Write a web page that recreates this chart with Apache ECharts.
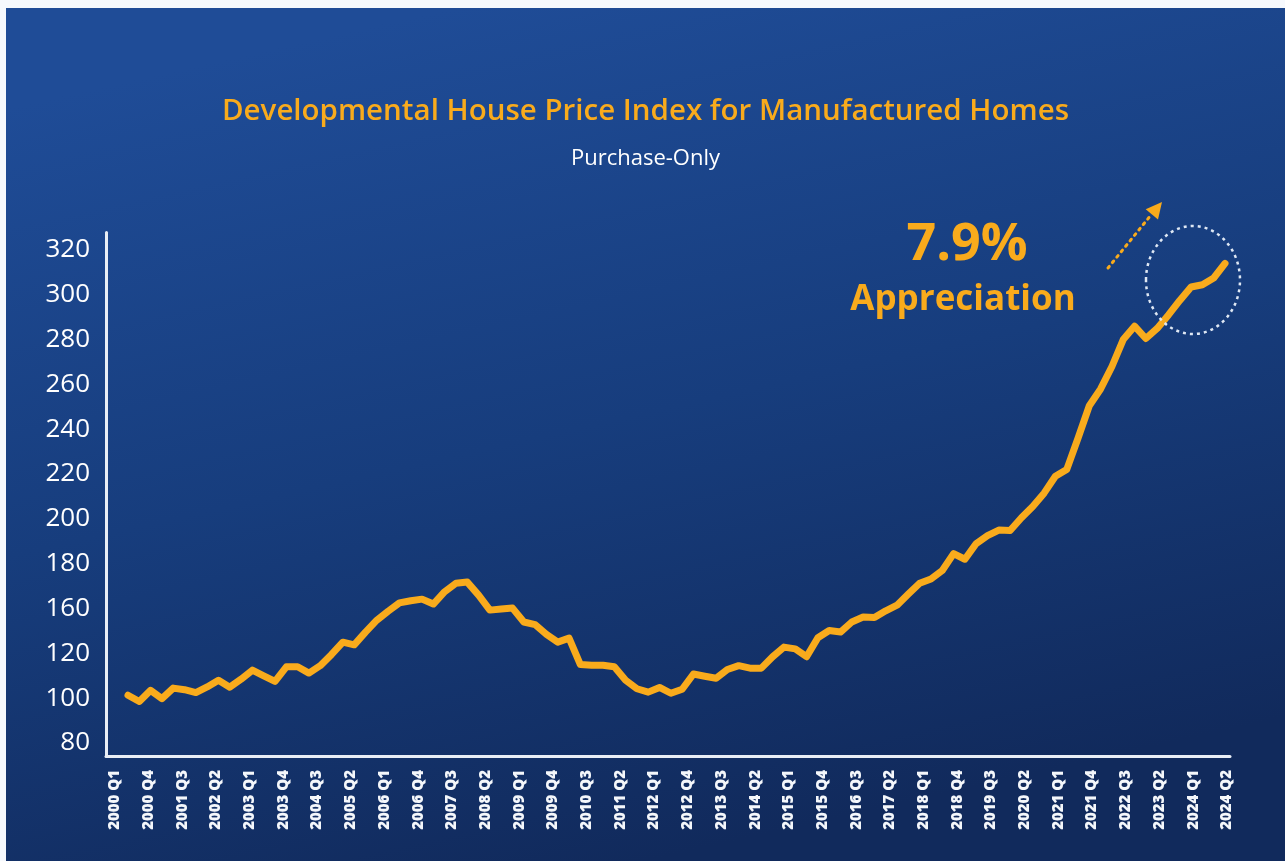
<!DOCTYPE html>
<html>
<head>
<meta charset="utf-8">
<title>Developmental House Price Index for Manufactured Homes</title>
<script src="https://cdn.jsdelivr.net/npm/echarts@6/dist/echarts.min.js"></script>
<style>
  html, body {
    margin: 0;
    padding: 0;
    width: 1285px;
    height: 861px;
    background: #f6f9fd;
    overflow: hidden;
  }
  #chart {
    position: absolute;
    left: 6px;
    top: 8px;
    width: 1279px;
    height: 853px;
  }
</style>
</head>
<body>
<div id="chart"></div>
<script>
// quarters 2000 Q1 .. 2024 Q2
const quarters = [];
for (let y = 2000; y <= 2024; y++) {
  for (let q = 1; q <= 4; q++) {
    if (y === 2024 && q > 2) break;
    quarters.push(y + ' Q' + q);
  }
}

// index values, one per quarter
const hpiValues = [
  121.3, 118.5, 123.5, 119.8, 124.5, 123.8, 122.5, 125.0, 128.0, 124.9,
  128.5, 132.5, 130.0, 127.5, 134.0, 134.0, 131.2, 134.5, 139.5, 145.0,
  143.8, 149.5, 154.8, 158.8, 162.5, 163.5, 164.2, 162.0, 167.5, 171.3,
  171.8, 166.0, 159.3, 159.8, 160.2, 154.0, 152.8, 148.5, 145.0, 146.8,
  135.0, 134.7, 134.7, 134.0, 128.0, 124.2, 122.7, 124.8, 122.2, 124.0,
  130.8, 129.8, 128.9, 132.8, 134.5, 133.4, 133.4, 138.5, 142.8, 142.0,
  138.5, 147.0, 150.2, 149.5, 154.0, 156.2, 156.0, 159.0, 161.5, 166.5,
  171.3, 173.2, 177.0, 184.5, 182.0, 189.0, 192.5, 195.0, 194.8, 200.5,
  205.5, 211.5, 219.0, 222.0, 236.0, 250.5, 258.0, 268.0, 280.0, 286.0,
  280.5, 285.0, 291.0, 297.5, 303.5, 304.5, 307.5, 314.0
];

// x labels as printed under the axis (evenly spaced)
const xTickLabels = [
  '2000 Q1', '2000 Q4', '2001 Q3', '2002 Q2', '2003 Q1', '2003 Q4', '2004 Q3',
  '2005 Q2', '2006 Q1', '2006 Q4', '2007 Q3', '2008 Q2', '2009 Q1', '2009 Q4',
  '2010 Q3', '2011 Q2', '2012 Q1', '2012 Q4', '2013 Q3', '2014 Q2', '2015 Q1',
  '2015 Q4', '2016 Q3', '2017 Q2', '2018 Q1', '2018 Q4', '2019 Q3', '2020 Q2',
  '2021 Q1', '2021 Q4', '2022 Q3', '2023 Q2', '2024 Q1', '2024 Q2'
];

// y labels as printed, bottom to top (the picture skips 140)
const yTickLabels = ['80', '100', '120', '160', '180', '200', '220', '240', '260', '280', '300', '320'];
const yTickStart = 100;
const yTickStep = 20;

const orange = '#f9ab1c';
const chart = echarts.init(document.getElementById('chart'));

const option = {
  backgroundColor: {
    type: 'linear', x: 0.35, y: 0, x2: 0.5, y2: 1,
    colorStops: [
      { offset: 0, color: '#1f4c97' },
      { offset: 0.5, color: '#173d7d' },
      { offset: 1, color: '#112a5c' }
    ]
  },
  title: [
    {
      text: 'Developmental House Price Index for Manufactured Homes',
      left: 'center',
      top: 84,
      textStyle: { color: orange, fontFamily: 'Open Sans', fontWeight: 600, fontSize: 29.5 }
    },
    {
      text: 'Purchase-Only',
      left: 'center',
      top: 135,
      textStyle: { color: '#ffffff', fontFamily: 'Open Sans', fontWeight: 400, fontSize: 22 }
    }
  ],
  grid: [
    // data grid
    { left: 100, top: 224.5, width: 1124, height: 523.5 },
    // grid only used to place the printed x labels
    { left: 109, top: 224.5, width: 1112, height: 523.5 }
  ],
  xAxis: [
    {
      type: 'value',
      gridIndex: 0,
      min: -1.945,
      max: 97.44,
      axisLine: { show: true, onZero: false, lineStyle: { color: '#e9eef6', width: 3 } },
      axisTick: { show: false },
      axisLabel: { show: false },
      splitLine: { show: false }
    },
    {
      type: 'category',
      gridIndex: 1,
      data: xTickLabels,
      boundaryGap: false,
      axisLine: { show: false },
      axisTick: { show: false },
      splitLine: { show: false },
      axisLabel: {
        interval: 0,
        rotate: 90,
        margin: 14,
        color: '#f4f7fb',
        fontFamily: 'Open Sans',
        fontWeight: 800,
        fontSize: 15
      }
    }
  ],
  yAxis: [
    {
      type: 'value',
      gridIndex: 0,
      min: 94.2,
      max: 327.8,
      minInterval: yTickStep,
      maxInterval: yTickStep,
      axisLine: { show: true, onZero: false, lineStyle: { color: '#e9eef6', width: 3 } },
      axisTick: { show: false },
      splitLine: { show: false },
      axisLabel: {
        margin: 16,
        color: '#ffffff',
        fontFamily: 'Open Sans',
        fontSize: 26,
        formatter: function (v) {
          const k = Math.round((v - yTickStart) / yTickStep);
          if (Math.abs(v - (yTickStart + k * yTickStep)) > 0.01) return '';
          return yTickLabels[k] || '';
        }
      }
    },
    { type: 'value', gridIndex: 1, show: false }
  ],
  series: [
    {
      type: 'line',
      xAxisIndex: 0,
      yAxisIndex: 0,
      data: hpiValues.map((v, i) => [i, v]),
      showSymbol: false,
      lineStyle: { color: orange, width: 7, cap: 'round', join: 'round' },
      z: 5
    }
  ],
  graphic: [
    {
      type: 'text',
      x: 961, y: 237,
      style: {
        text: '7.9%', fill: orange, align: 'center', verticalAlign: 'middle',
        font: 'bold 52px "Open Sans"'
      }
    },
    {
      type: 'text',
      x: 957, y: 292,
      style: {
        text: 'Appreciation', fill: orange, align: 'center', verticalAlign: 'middle',
        font: 'bold 35px "Open Sans"'
      }
    },
    // dotted arrow
    {
      type: 'line',
      shape: { x1: 1102, y1: 260, x2: 1145, y2: 207 },
      style: { stroke: orange, lineWidth: 3, lineDash: [2, 5], lineCap: 'round' }
    },
    {
      type: 'polygon',
      shape: { points: [[1156, 194], [1152, 211.5], [1139.7, 201.3]] },
      style: { fill: orange }
    },
    // dotted ellipse
    {
      type: 'ellipse',
      shape: { cx: 1187, cy: 272, rx: 47, ry: 54 },
      style: { fill: 'none', stroke: '#dfe8f4', lineWidth: 2.5, lineDash: [3, 4] },
      z: 10
    }
  ]
};

chart.setOption(option);
</script>
</body>
</html>
